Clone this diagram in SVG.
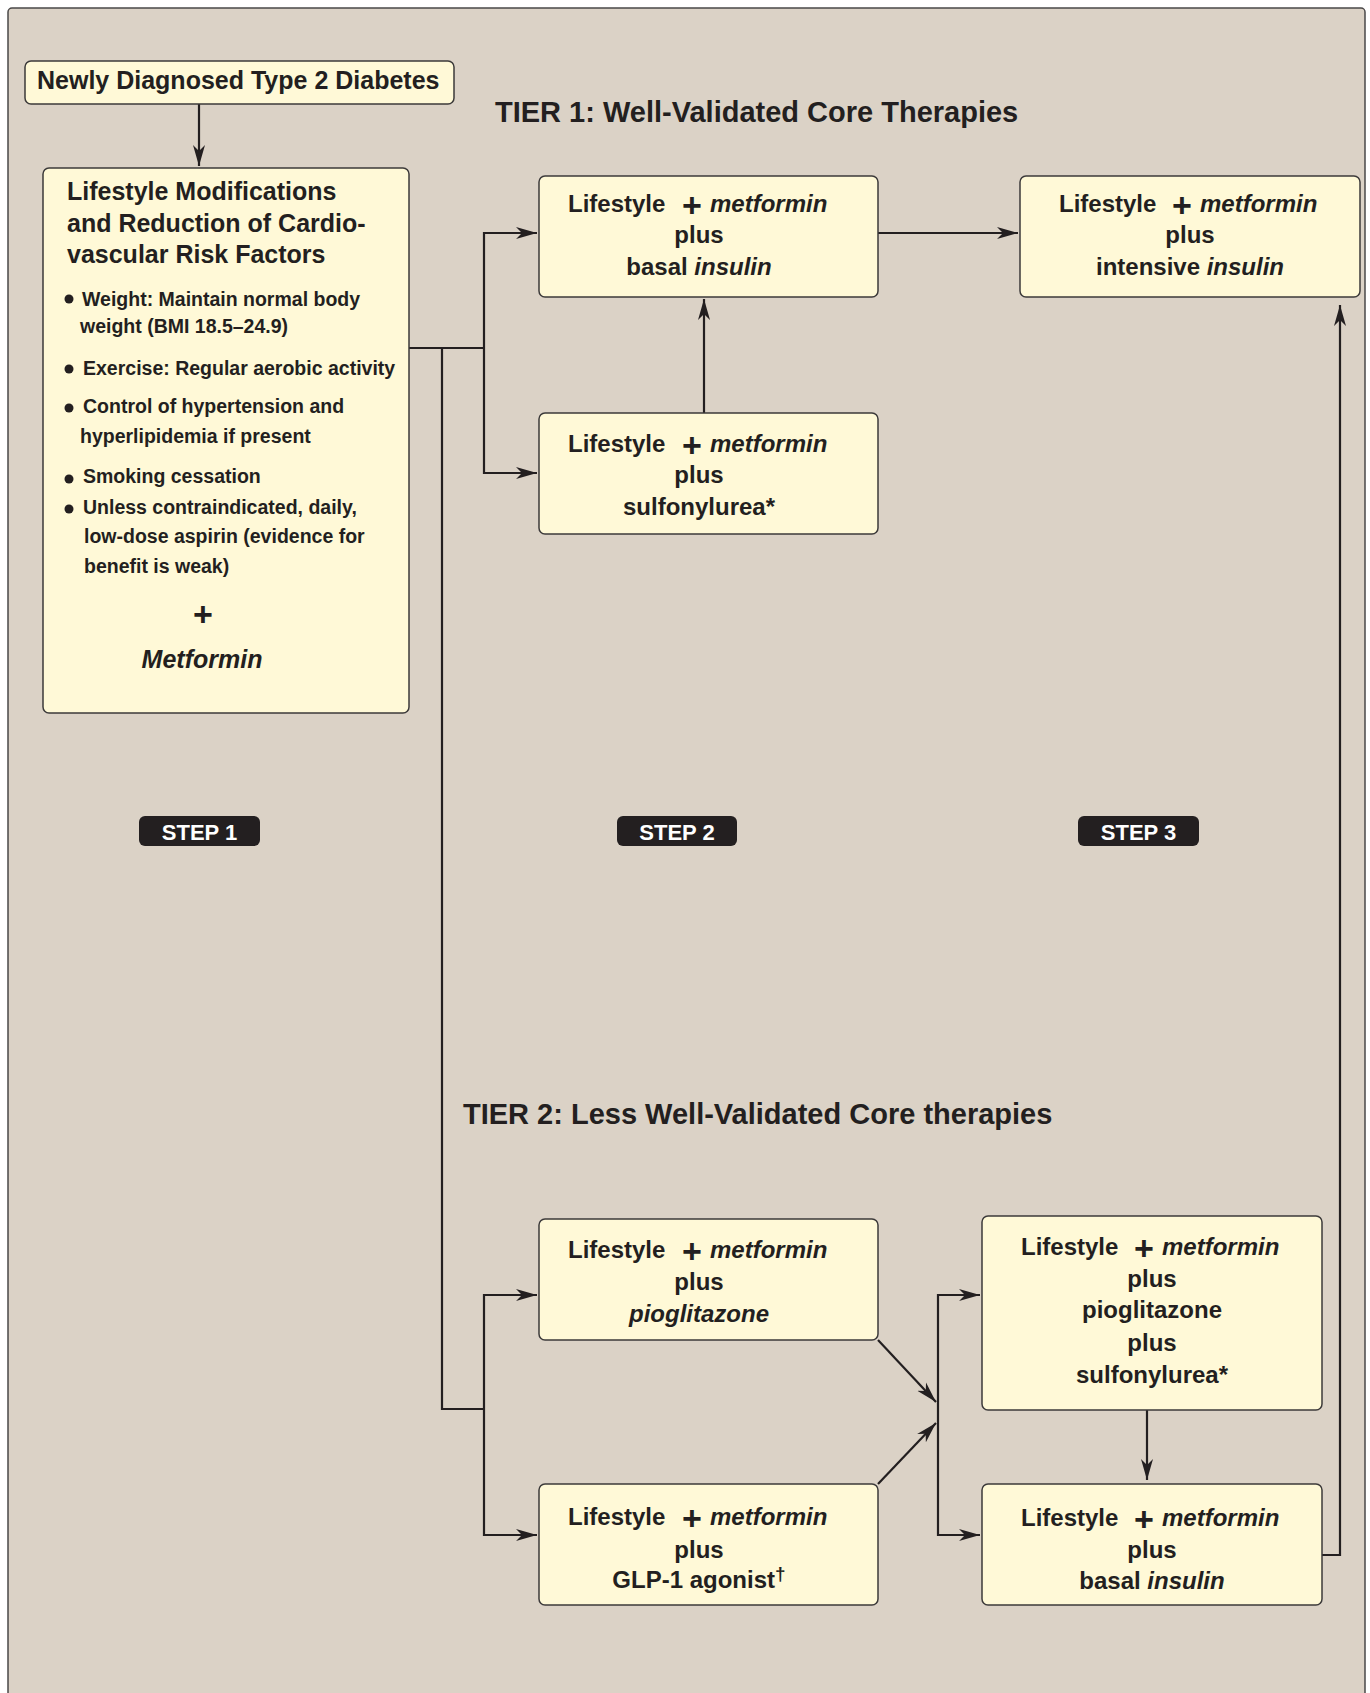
<svg xmlns="http://www.w3.org/2000/svg" width="1370" height="1693" viewBox="0 0 1370 1693">
<defs>
<style>
.t{font-family:"Liberation Sans",Arial,sans-serif;font-weight:bold;fill:#231f20}
.bx{font-size:24px}
.c{text-anchor:middle}
.i{font-style:italic}
.pl{font-family:"Liberation Sans",Arial,sans-serif;font-weight:bold;font-size:34px;fill:#231f20;text-anchor:middle}
.b{font-size:19.5px}
.node rect{fill:#fff9d7;stroke:#3c3a3a;stroke-width:1.5}
.step rect{fill:#231f20}
.step text{font-family:"Liberation Sans",Arial,sans-serif;font-weight:bold;font-size:22px;fill:#ffffff;text-anchor:middle}
.con path{fill:none;stroke:#231f20;stroke-width:2.2}
.arr{marker-end:url(#ah)}
</style>
<marker id="ah" markerWidth="22" markerHeight="14" refX="21" refY="7" orient="auto" markerUnits="userSpaceOnUse">
<path d="M0,1 L21,7 L0,13 L6,7 Z" fill="#231f20"/>
</marker>
</defs>
<rect x="0" y="0" width="1370" height="1693" fill="#ffffff"/>
<rect x="8" y="8" width="1357" height="1720" rx="4" fill="#dbd2c6" stroke="#4a4848" stroke-width="1.5"/>

<g id="connectors" class="con">
<path class="arr" d="M199,104 V166"/>
<path d="M409,348 H484"/>
<path class="arr" d="M484,348 V233 H537"/>
<path class="arr" d="M484,348 V473 H537"/>
<path class="arr" d="M704,413 V299"/>
<path class="arr" d="M878,233 H1018"/>
<path d="M442,348 V1409 H484"/>
<path class="arr" d="M484,1409 V1295 H537"/>
<path class="arr" d="M484,1409 V1535 H537"/>
<path class="arr" d="M878,1340 L936,1402"/>
<path class="arr" d="M878,1484 L936,1423"/>
<path class="arr" d="M938,1415 V1295 H980"/>
<path class="arr" d="M938,1415 V1535 H980"/>
<path class="arr" d="M1147,1410 V1480"/>
<path class="arr" d="M1322,1555 H1340 V305"/>
</g>

<g id="newly" class="node">
<rect x="25" y="61" width="429" height="43" rx="6"/>
<text class="t" x="37" y="89" font-size="25">Newly Diagnosed Type 2 Diabetes</text>
</g>

<text id="tier1" class="t" x="495" y="122" font-size="29">TIER 1: Well-Validated Core Therapies</text>
<text id="tier2" class="t" x="463" y="1124" font-size="29">TIER 2: Less Well-Validated Core therapies</text>

<g id="lifestyle" class="node">
<rect x="43" y="168" width="366" height="545" rx="6"/>
<text class="t" font-size="25" x="67" y="200">Lifestyle Modifications</text>
<text class="t" font-size="25" x="67" y="232">and Reduction of Cardio-</text>
<text class="t" font-size="25" x="67" y="263">vascular Risk Factors</text>
<circle cx="69" cy="299" r="4.5" fill="#231f20"/>
<text class="t b" x="82" y="306">Weight: Maintain normal body</text>
<text class="t b" x="80" y="333">weight (BMI 18.5–24.9)</text>
<circle cx="69" cy="369" r="4.5" fill="#231f20"/>
<text class="t b" x="83" y="375">Exercise: Regular aerobic activity</text>
<circle cx="69" cy="408" r="4.5" fill="#231f20"/>
<text class="t b" x="83" y="413">Control of hypertension and</text>
<text class="t b" x="80" y="443">hyperlipidemia if present</text>
<circle cx="69" cy="479" r="4.5" fill="#231f20"/>
<text class="t b" x="83" y="483">Smoking cessation</text>
<circle cx="69" cy="509" r="4.5" fill="#231f20"/>
<text class="t b" x="83" y="514">Unless contraindicated, daily,</text>
<text class="t b" x="84" y="543">low-dose aspirin (evidence for</text>
<text class="t b" x="84" y="573">benefit is weak)</text>
<text class="pl" x="203" y="626" font-size="40">+</text>
<text class="t i c" font-size="25" x="202" y="668">Metformin</text>
</g>

<g id="t1-basal" class="node">
<rect x="539" y="176" width="339" height="121" rx="6"/>
<text class="t bx" x="568" y="212">Lifestyle</text>
<text class="pl" x="692" y="217">+</text>
<text class="t bx i" x="710" y="212">metformin</text>
<text class="t bx c" x="699" y="243">plus</text>
<text class="t bx c" x="699" y="275">basal <tspan class="i">insulin</tspan></text>
</g>

<g id="t1-sulf" class="node">
<rect x="539" y="413" width="339" height="121" rx="6"/>
<text class="t bx" x="568" y="452">Lifestyle</text>
<text class="pl" x="692" y="457">+</text>
<text class="t bx i" x="710" y="452">metformin</text>
<text class="t bx c" x="699" y="483">plus</text>
<text class="t bx c" x="699" y="515">sulfonylurea*</text>
</g>

<g id="t1-intensive" class="node">
<rect x="1020" y="176" width="340" height="121" rx="6"/>
<text class="t bx" x="1059" y="212">Lifestyle</text>
<text class="pl" x="1182" y="217">+</text>
<text class="t bx i" x="1200" y="212">metformin</text>
<text class="t bx c" x="1190" y="243">plus</text>
<text class="t bx c" x="1190" y="275">intensive <tspan class="i">insulin</tspan></text>
</g>

<g id="step1" class="step">
<rect x="139" y="816" width="121" height="30" rx="6"/>
<text x="199.5" y="840">STEP 1</text>
</g>
<g id="step2" class="step">
<rect x="617" y="816" width="120" height="30" rx="6"/>
<text x="677" y="840">STEP 2</text>
</g>
<g id="step3" class="step">
<rect x="1078" y="816" width="121" height="30" rx="6"/>
<text x="1138.5" y="840">STEP 3</text>
</g>

<g id="t2-pio" class="node">
<rect x="539" y="1219" width="339" height="121" rx="6"/>
<text class="t bx" x="568" y="1258">Lifestyle</text>
<text class="pl" x="692" y="1263">+</text>
<text class="t bx i" x="710" y="1258">metformin</text>
<text class="t bx c" x="699" y="1290">plus</text>
<text class="t bx c i" x="699" y="1322">pioglitazone</text>
</g>

<g id="t2-glp1" class="node">
<rect x="539" y="1484" width="339" height="121" rx="6"/>
<text class="t bx" x="568" y="1525">Lifestyle</text>
<text class="pl" x="692" y="1530">+</text>
<text class="t bx i" x="710" y="1525">metformin</text>
<text class="t bx c" x="699" y="1558">plus</text>
<text class="t bx c" x="699" y="1588">GLP-1 agonist<tspan font-size="19" dy="-8">†</tspan></text>
</g>

<g id="t2-pio-sulf" class="node">
<rect x="982" y="1216" width="340" height="194" rx="6"/>
<text class="t bx" x="1021" y="1255">Lifestyle</text>
<text class="pl" x="1144" y="1260">+</text>
<text class="t bx i" x="1162" y="1255">metformin</text>
<text class="t bx c" x="1152" y="1287">plus</text>
<text class="t bx c" x="1152" y="1318">pioglitazone</text>
<text class="t bx c" x="1152" y="1351">plus</text>
<text class="t bx c" x="1152" y="1383">sulfonylurea*</text>
</g>

<g id="t2-basal" class="node">
<rect x="982" y="1484" width="340" height="121" rx="6"/>
<text class="t bx" x="1021" y="1526">Lifestyle</text>
<text class="pl" x="1144" y="1531">+</text>
<text class="t bx i" x="1162" y="1526">metformin</text>
<text class="t bx c" x="1152" y="1558">plus</text>
<text class="t bx c" x="1152" y="1589">basal <tspan class="i">insulin</tspan></text>
</g>
</svg>
